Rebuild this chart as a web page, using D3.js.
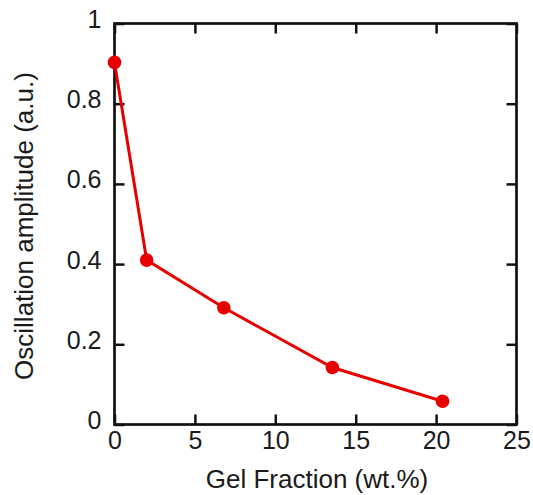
<!DOCTYPE html>
<html>
<head>
<meta charset="utf-8">
<script src="https://cdn.jsdelivr.net/npm/d3@7"></script>
<style>
  body { margin: 0; background: #fff; }
  text { font-family: "Liberation Sans", Arial, sans-serif; fill: #1a1a1a; }
</style>
</head>
<body>
<div id="chart"></div>
<script>
const gelFraction = [0, 2.0, 6.8, 13.55, 20.4];
const amplitude = [0.903, 0.41, 0.291, 0.142, 0.058];
const xTicks = [0, 5, 10, 15, 20, 25];
const yTicks = [0, 0.2, 0.4, 0.6, 0.8, 1];

const width = 533, height = 495;
const margin = { top: 23.5, right: 16.5, bottom: 70.5, left: 114.5 };
const innerWidth = width - margin.left - margin.right;
const innerHeight = height - margin.top - margin.bottom;

const svg = d3.select('#chart')
    .append('svg')
    .attr('width', width)
    .attr('height', height);

const inner = svg.append('g')
    .attr('transform', `translate(${margin.left},${margin.top})`);

const xScale = d3.scaleLinear().domain([0, 25]).range([0, innerWidth]);
const yScale = d3.scaleLinear().domain([0, 1]).range([innerHeight, 0]);

// ticks point inward on all four sides
const tickLen = 10;
const styleAxis = g => {
    g.select('.domain').remove();
    g.selectAll('.tick line').attr('stroke', '#111').attr('stroke-width', 2.5);
};
const noLabels = g => g.selectAll('.tick text').remove();

inner.append('g')
    .attr('transform', `translate(0,${innerHeight})`)
    .call(d3.axisBottom(xScale).tickValues(xTicks).tickSize(-tickLen).tickPadding(7).tickFormat(d3.format('d')))
    .call(styleAxis)
    .selectAll('text').attr('font-size', '25px').attr('fill', '#1a1a1a');

inner.append('g')
    .call(d3.axisTop(xScale).tickValues(xTicks).tickSize(-tickLen))
    .call(styleAxis)
    .call(noLabels);

inner.append('g')
    .call(d3.axisLeft(yScale).tickValues(yTicks).tickSize(-tickLen).tickPadding(13).tickFormat(d3.format('')))
    .call(styleAxis)
    .selectAll('text').attr('font-size', '25px').attr('fill', '#1a1a1a').attr('dy', '0.16em');

inner.append('g')
    .attr('transform', `translate(${innerWidth},0)`)
    .call(d3.axisRight(yScale).tickValues(yTicks).tickSize(-tickLen))
    .call(styleAxis)
    .call(noLabels);

// frame
inner.append('rect')
    .attr('width', innerWidth)
    .attr('height', innerHeight)
    .attr('fill', 'none')
    .attr('stroke', '#111')
    .attr('stroke-width', 2.7);

const data = gelFraction.map((x, i) => ({ x, y: amplitude[i] }));
const red = 'rgb(232,0,0)';

inner.append('path')
    .datum(data)
    .attr('fill', 'none')
    .attr('stroke', red)
    .attr('stroke-width', 3)
    .attr('d', d3.line().x(d => xScale(d.x)).y(d => yScale(d.y)));

inner.selectAll('circle')
    .data(data)
    .join('circle')
    .attr('cx', d => xScale(d.x))
    .attr('cy', d => yScale(d.y))
    .attr('r', 6.8)
    .attr('fill', red);

svg.append('text')
    .text('Gel Fraction (wt.%)')
    .attr('text-anchor', 'middle')
    .attr('font-size', '26px')
    .attr('x', 317)
    .attr('y', 488);

svg.append('text')
    .text('Oscillation amplitude (a.u.)')
    .attr('text-anchor', 'middle')
    .attr('font-size', '26px')
    .attr('transform', 'rotate(-90)')
    .attr('x', -226)
    .attr('y', 33);
</script>
</body>
</html>
